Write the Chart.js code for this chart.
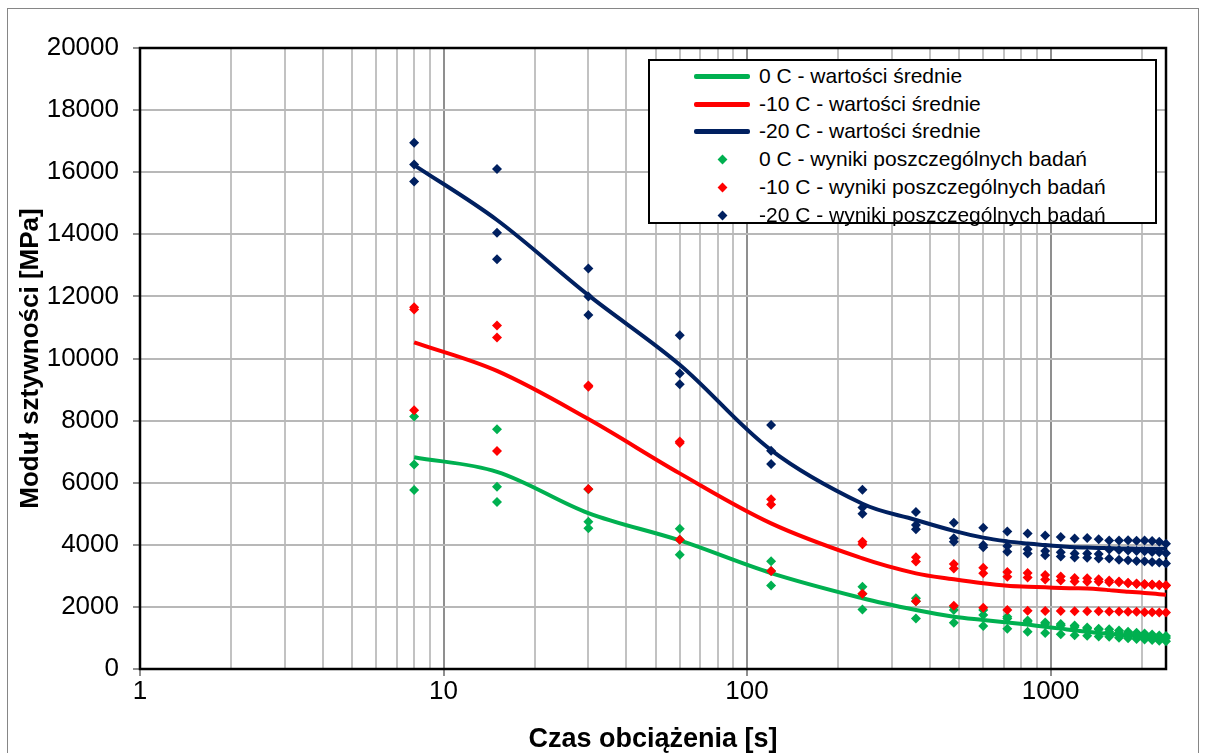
<!DOCTYPE html>
<html>
<head>
<meta charset="utf-8">
<script src="https://cdn.jsdelivr.net/npm/chart.js@4.4.1/dist/chart.umd.min.js"></script>
<style>
  html, body { margin: 0; padding: 0; background: #fff; }
  #wrap { position: relative; width: 1206px; height: 753px; overflow: hidden; }
  #frame { position: absolute; left: 7px; top: 8px; width: 1190px; height: 780px; border: 1px solid #868686; }
  #c { position: absolute; left: 0; top: 0; }
  #legend {
    position: absolute; left: 648px; top: 59px; width: 505px; height: 161px;
    border: 2px solid #000; background: #fff;
    font: 21px "Liberation Sans", Arial, sans-serif; color: #000;
  }
  .item { position: absolute; left: 0; height: 28px; width: 100%; }
  .item .line { position: absolute; left: 44px; top: 12px; width: 56px; height: 5px; border-radius: 2px; }
  .item .dot { position: absolute; left: 69px; top: 11px; width: 7px; height: 7px; transform: rotate(45deg); }
  .item .txt { position: absolute; left: 109px; top: 0; line-height: 28px; white-space: nowrap; }
</style>
</head>
<body>
<div id="wrap">
  <div id="frame"></div>
  <canvas id="c" width="1206" height="753"></canvas>
  <div id="legend"></div>
</div>
<script>
// czas obciążenia [s]
const times = [8, 15, 30, 60, 120, 240, 360, 480, 600, 720, 840, 960, 1080, 1200, 1320, 1440, 1560, 1680, 1800, 1920, 2040, 2160, 2280, 2400];

// wartości średnie [MPa]
const mean0 = [6820, 6350, 5020, 4140, 3090, 2280, 1900, 1685, 1580, 1500, 1430, 1360, 1300, 1240, 1200, 1160, 1130, 1100, 1080, 1050, 1020, 990, 960, 935];
const mean10 = [10520, 9600, 8050, 6300, 4690, 3560, 3080, 2890, 2760, 2680, 2650, 2630, 2610, 2600, 2590, 2570, 2540, 2510, 2490, 2470, 2450, 2430, 2410, 2390];
const mean20 = [16230, 14460, 12040, 9800, 7050, 5320, 4800, 4450, 4230, 4110, 4040, 3990, 3950, 3920, 3910, 3900, 3890, 3880, 3880, 3875, 3875, 3870, 3870, 3870];

// wyniki poszczególnych badań, 0 C
const t0a = [8130, 7720, 5790, 4520, 3470, 2650, 2280, 2000, 1900, 1680, 1560, 1500, 1450, 1400, 1340, 1300, 1280, 1240, 1200, 1170, 1140, 1110, 1080, 1060];
const t0b = [6590, 5870, 4745, 4160, 3160, 2420, 2180, 1900, 1740, 1630, 1520, 1450, 1400, 1350, 1300, 1270, 1200, 1170, 1140, 1110, 1080, 1050, 1030, 1000];
const t0c = [5765, 5380, 4530, 3680, 2690, 1920, 1630, 1490, 1385, 1300, 1200, 1160, 1120, 1090, 1070, 1050, 1040, 1010, 990, 970, 950, 930, 910, 890];

// -10 C
const t10a = [11650, 11060, 9130, 7330, 5470, 4100, 3600, 3380, 3260, 3120, 3090, 3030, 2980, 2930, 2920, 2890, 2850, 2820, 2780, 2750, 2740, 2720, 2710, 2700];
const t10b = [11580, 10680, 9090, 7280, 5300, 4020, 3460, 3240, 3080, 2970, 2950, 2880, 2850, 2820, 2810, 2810, 2790, 2790, 2760, 2740, 2720, 2710, 2700, 2690];
const t10c = [8330, 7020, 5800, 4160, 3160, 2420, 2180, 2040, 1975, 1900, 1880, 1870, 1870, 1860, 1860, 1860, 1850, 1850, 1840, 1840, 1830, 1830, 1820, 1820];

// -20 C
const t20a = [16950, 16100, 12900, 10750, 7860, 5770, 5060, 4710, 4550, 4430, 4360, 4300, 4250, 4200, 4220, 4180, 4140, 4140, 4150, 4130, 4140, 4120, 4100, 4030];
const t20b = [16250, 14050, 12000, 9520, 7030, 5200, 4640, 4210, 3990, 3960, 3860, 3800, 3760, 3720, 3720, 3700, 3850, 3830, 3820, 3800, 3790, 3770, 3760, 3730];
const t20c = [15700, 13200, 11400, 9170, 6600, 5000, 4500, 4100, 3920, 3780, 3720, 3660, 3620, 3590, 3580, 3560, 3560, 3520, 3500, 3480, 3470, 3450, 3430, 3400];

// siatka osi X (log) i opisy
const xGridTicks = [1, 2, 3, 4, 5, 6, 7, 8, 9, 10, 20, 30, 40, 50, 60, 70, 80, 90, 100, 200, 300, 400, 500, 600, 700, 800, 900, 1000, 2000, 2400];
const xLabelTicks = [1, 10, 100, 1000];

const GREEN = "#00B050";
const RED = "#FF0000";
const NAVY = "#002060";

function meanLine(values) {
  return times.map((t, i) => ({ x: t, y: values[i] }));
}

function testPoints(a, b, c) {
  const pts = [];
  times.forEach((t, i) => {
    pts.push({ x: t, y: a[i] }, { x: t, y: b[i] }, { x: t, y: c[i] });
  });
  return pts;
}

function lineSet(label, values, color, order) {
  return {
    label,
    data: meanLine(values),
    borderColor: color,
    backgroundColor: color,
    borderWidth: 4,
    pointRadius: 0,
    tension: 0.35,
    clip: false,
    order,
  };
}

function pointSet(label, a, b, c, color, order) {
  return {
    label,
    data: testPoints(a, b, c),
    showLine: false,
    pointStyle: "rectRot",
    pointRadius: 5,
    pointBorderWidth: 0,
    borderColor: color,
    backgroundColor: color,
    clip: false,
    order,
  };
}

// legenda w HTML, w kolejności serii
const htmlLegend = {
  id: "htmlLegend",
  afterUpdate(chart) {
    const box = document.getElementById("legend");
    box.innerHTML = "";
    chart.data.datasets.forEach((ds, i) => {
      const row = document.createElement("div");
      row.className = "item";
      row.style.top = (1 + i * 27.7) + "px";
      const mark = document.createElement("span");
      mark.className = ds.showLine === false ? "dot" : "line";
      mark.style.background = ds.borderColor;
      const txt = document.createElement("span");
      txt.className = "txt";
      txt.textContent = ds.label;
      row.append(mark, txt);
      box.append(row);
    });
  },
};

// czarna ramka obszaru wykresu
const plotFrame = {
  id: "plotFrame",
  beforeDatasetsDraw(chart) {
    const { ctx, chartArea: a } = chart;
    ctx.save();
    ctx.strokeStyle = "#000";
    ctx.lineWidth = 2.5;
    ctx.strokeRect(a.left, a.top, a.right - a.left, a.bottom - a.top);
    ctx.restore();
  },
};

Chart.defaults.font.family = '"Liberation Sans", Arial, sans-serif';
Chart.defaults.color = "#000";

new Chart(document.getElementById("c"), {
  type: "line",
  data: {
    datasets: [
      lineSet("0 C - wartości średnie", mean0, GREEN, 5),
      lineSet("-10 C - wartości średnie", mean10, RED, 4),
      lineSet("-20 C - wartości średnie", mean20, NAVY, 3),
      pointSet("0 C - wyniki poszczególnych badań", t0a, t0b, t0c, GREEN, 2),
      pointSet("-10 C - wyniki poszczególnych badań", t10a, t10b, t10c, RED, 1),
      pointSet("-20 C - wyniki poszczególnych badań", t20a, t20b, t20c, NAVY, 0),
    ],
  },
  options: {
    responsive: false,
    animation: false,
    devicePixelRatio: 1,
    layout: { padding: { left: 0, top: 48, right: 40, bottom: 0 } },
    plugins: {
      legend: { display: false },
      tooltip: { enabled: false },
    },
    scales: {
      x: {
        type: "logarithmic",
        min: 1,
        max: 2400,
        afterBuildTicks: (scale) => {
          scale.ticks = xGridTicks.map((v) => ({ value: v }));
        },
        afterFit: (scale) => {
          scale.height = 84;
        },
        ticks: {
          autoSkip: false,
          maxRotation: 0,
          minRotation: 0,
          padding: 0,
          font: { size: 26 },
          callback: (v) => (xLabelTicks.includes(v) ? String(v) : ""),
        },
        grid: {
          lineWidth: 2,
          tickLength: 7,
          color: (c) => (c.tick && xLabelTicks.includes(c.tick.value) ? "#8f8f8f" : "#c2c2c2"),
          tickColor: (c) => (c.tick && xLabelTicks.includes(c.tick.value) ? "#8f8f8f" : "rgba(0,0,0,0)"),
        },
        border: { color: "#868686", width: 2 },
        title: {
          display: true,
          text: "Czas obciążenia [s]",
          font: { size: 27, weight: "bold", lineHeight: 1 },
          padding: { top: 0, bottom: 0 },
        },
      },
      y: {
        min: 0,
        max: 20000,
        afterFit: (scale) => {
          scale.width = 140;
        },
        ticks: { stepSize: 2000, padding: 14, font: { size: 26 }, callback: (v) => String(v) },
        grid: { color: "#b8b8b8", lineWidth: 2, tickLength: 7, tickColor: "#8f8f8f" },
        border: { color: "#868686", width: 2 },
        title: {
          display: true,
          text: "Moduł sztywności [MPa]",
          font: { size: 26, weight: "bold", lineHeight: 1 },
          padding: { top: 18, bottom: 0 },
        },
      },
    },
  },
  plugins: [htmlLegend, plotFrame],
});
</script>
</body>
</html>
